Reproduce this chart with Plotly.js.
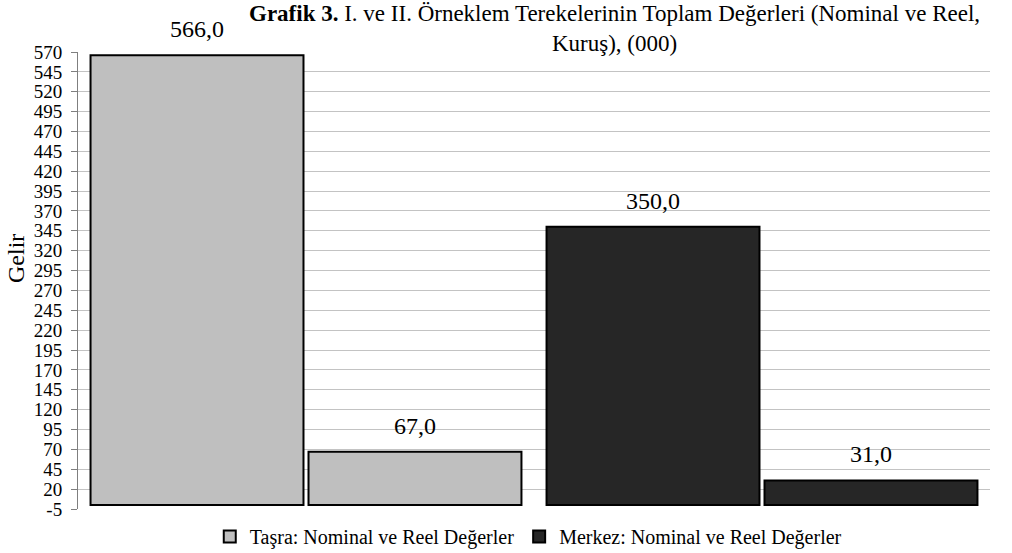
<!DOCTYPE html>
<html>
<head>
<meta charset="utf-8">
<script src="https://cdn.plot.ly/plotly-3.0.1.min.js"></script>
<style>html,body{margin:0;padding:0;background:#fff;}#chart{width:1012px;height:553px;}</style>
</head>
<body>
<div id="chart"></div>
<script>
const groups = ["Taşra", "Merkez"];
const slots = ["Nominal", "Reel"];
const tasraValues = [566.0, 67.0];
const merkezValues = [350.0, 31.0];
const seriesNames = ["Taşra: Nominal ve Reel Değerler", "Merkez: Nominal ve Reel Değerler"];
const yTicks = [-5, 20, 45, 70, 95, 120, 145, 170, 195, 220, 245, 270, 295, 320, 345, 370, 395, 420, 445, 470, 495, 520, 545, 570];
const titleText = "<b>Grafik 3.</b> I. ve II. Örneklem Terekelerinin Toplam Değerleri (Nominal ve Reel,<br>Kuruş), (000)";
const yTitle = "Gelir";

const font = "Liberation Serif";
const colors = ["#bfbfbf", "#262626"];
const seriesValues = [tasraValues, merkezValues];
const bargap = 0.044;

const traces = [];
const labelAnns = [];
seriesValues.forEach((vals, s) => {
  vals.forEach((v, i) => {
    traces.push({
      type: "bar",
      x: [groups[s]],
      y: [v],
      name: seriesNames[s],
      legendgroup: "g" + s,
      showlegend: i === 0,
      offsetgroup: slots[i],
      marker: {color: colors[s], line: {color: "#000", width: 2}},
      hoverinfo: "skip"
    });
    const slotW = (1 - bargap) / slots.length;
    labelAnns.push({
      text: v.toFixed(1).replace(".", ","),
      showarrow: false,
      xref: "x", x: s - (1 - bargap) / 2 + slotW * (i + 0.5),
      yref: "y", y: v, yanchor: "bottom", yshift: 11,
      font: {family: font, size: 24, color: "#000"}
    });
  });
});

const layout = {
  width: 1012, height: 553,
  margin: {l: 78, r: 22, t: 52, b: 44},
  paper_bgcolor: "#fff", plot_bgcolor: "#fff",
  separators: ",.",
  barmode: "group",
  bargap: bargap,
  bargroupgap: 0.023,
  font: {family: font, color: "#000"},
  xaxis: {
    type: "category",
    categoryorder: "array", categoryarray: groups,
    range: [-0.5, 1.5],
    showticklabels: false, showgrid: false, zeroline: false, showline: false,
    ticks: ""
  },
  yaxis: {
    range: [-5, 570],
    tickmode: "array", tickvals: yTicks, ticktext: yTicks.map(String),
    tickfont: {family: font, size: 19, color: "#000"},
    showgrid: true, gridcolor: "#c3c3c3", gridwidth: 1,
    zeroline: false,
    showline: true, linecolor: "#7f7f7f", linewidth: 1,
    ticks: "outside", ticklen: 6, tickcolor: "#7f7f7f",
    ticklabelstandoff: 5
  },
  annotations: labelAnns.concat([
    {
      text: titleText, showarrow: false,
      xref: "paper", x: 0.588, xanchor: "center",
      yref: "paper", y: 1, yanchor: "bottom", yshift: -6,
      align: "center",
      font: {family: font, size: 23, color: "#000"}
    },
    {
      text: yTitle, showarrow: false, textangle: -90,
      xref: "paper", x: 0, xanchor: "center", xshift: -62,
      yref: "paper", y: 0.547, yanchor: "middle",
      font: {family: font, size: 24, color: "#000"}
    }
  ]),
  legend: {
    orientation: "h", x: 0.522, xanchor: "center", xref: "container",
    y: 0.03, yanchor: "middle", yref: "container",
    font: {family: font, size: 20, color: "#000"},
    itemwidth: 30, tracegroupgap: 0
  }
};

Plotly.newPlot("chart", traces, layout, {displayModeBar: false, staticPlot: true});
</script>
</body>
</html>
